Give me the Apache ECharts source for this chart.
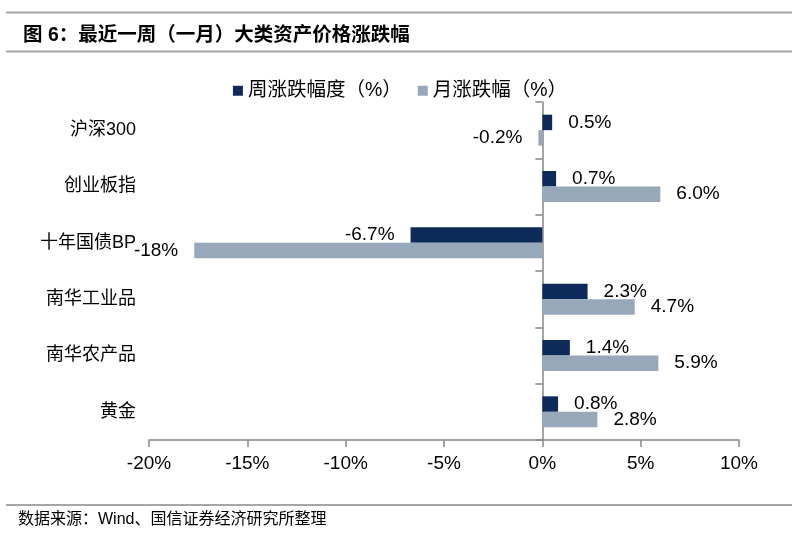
<!DOCTYPE html>
<html>
<head>
<meta charset="utf-8">
<script src="https://cdn.jsdelivr.net/npm/echarts@6/dist/echarts.min.js"></script>
<style>
html,body{margin:0;padding:0;background:#fff;}
#main{width:800px;height:542px;}
</style>
</head>
<body>
<div id="main"></div>
<script>
const categories = ['沪深300', '创业板指', '十年国债BP', '南华工业品', '南华农产品', '黄金'];
const weekValues = [0.5, 0.7, -6.7, 2.3, 1.4, 0.8];
const monthValues = [-0.2, 6.0, -17.7, 4.7, 5.9, 2.8];
const weekLabels = ['0.5%', '0.7%', '-6.7%', '2.3%', '1.4%', '0.8%'];
const monthLabels = ['-0.2%', '6.0%', '-18%', '4.7%', '5.9%', '2.8%'];
const seriesNames = ['周涨跌幅度（%）', '月涨跌幅（%）'];
const xMin = -20, xMax = 10, xStep = 5;

const latin = '"Liberation Sans", Arial, "Noto Sans CJK SC", sans-serif';
const cjk = '"Liberation Sans", "Noto Sans CJK SC", sans-serif';
const DARK = '#0d2a59';
const LIGHT = '#97a8bb';

const W = 800, H = 542;
const gridLeft = 149, gridRight = 61, gridTop = 102, gridBottom = 102;
const gridWidth = W - gridLeft - gridRight;
// place the category axis line at x = 0 of the value axis
const zeroOffset = -((0 - xMin) / (xMax - xMin)) * gridWidth;

function mkData(vals, labels) {
  return vals.map((v, i) => ({
    value: v,
    label: {
      position: v < 0 ? 'left' : 'right',
      formatter: labels[i]
    }
  }));
}

const chart = echarts.init(document.getElementById('main'));
chart.setOption({
  animation: false,
  backgroundColor: '#fff',
  title: {
    text: '图 6：最近一周（一月）大类资产价格涨跌幅',
    left: 18, top: 21,
    textStyle: { fontFamily: cjk, fontSize: 19.5, fontWeight: 'bold', color: '#000' }
  },
  graphic: [
    { type: 'line', shape: { x1: 6, y1: 12.5, x2: 792, y2: 12.5 }, style: { stroke: '#a6a6a6', lineWidth: 2 } },
    { type: 'line', shape: { x1: 6, y1: 51.5, x2: 792, y2: 51.5 }, style: { stroke: '#a6a6a6', lineWidth: 2 } },
    { type: 'line', shape: { x1: 6, y1: 505, x2: 792, y2: 505 }, style: { stroke: '#a6a6a6', lineWidth: 2 } },
    { type: 'text', left: 18, top: 512, style: { text: '数据来源：Wind、国信证券经济研究所整理', font: '16px "Liberation Sans", "Noto Sans CJK SC", sans-serif', fill: '#000' } }
  ],
  legend: {
    top: 76,
    left: 'center',
    icon: 'rect',
    itemWidth: 10, itemHeight: 10, itemGap: 16,
    textStyle: { fontFamily: cjk, fontSize: 19.5, color: '#000' },
    data: seriesNames
  },
  grid: { left: gridLeft, right: gridRight, top: gridTop, bottom: gridBottom, containLabel: false },
  xAxis: {
    type: 'value',
    min: xMin, max: xMax, interval: xStep,
    axisLine: { show: true, onZero: false, lineStyle: { color: '#868686', width: 1.5 } },
    axisTick: { show: true, length: 7, lineStyle: { color: '#868686', width: 1.5 } },
    splitLine: { show: false },
    axisLabel: { formatter: v => v + '%', fontFamily: latin, fontSize: 19, color: '#000', margin: 14 }
  },
  yAxis: [
    {
      type: 'category', data: categories, inverse: true,
      axisLine: { show: false, onZero: false }, axisTick: { show: false },
      axisLabel: { fontFamily: cjk, fontSize: 18, color: '#000', margin: 13 }
    },
    {
      type: 'category', data: categories, inverse: true, position: 'left',
      offset: zeroOffset,
      axisLine: { show: true, onZero: false, lineStyle: { color: '#868686', width: 1.5 } },
      axisTick: { show: true, length: 7, lineStyle: { color: '#868686', width: 1.5 } },
      axisLabel: { show: false }
    }
  ],
  series: [
    {
      name: seriesNames[0], type: 'bar', yAxisIndex: 0,
      barGap: '0%', barCategoryGap: '45%',
      itemStyle: { color: DARK },
      label: { show: true, distance: 16, fontFamily: latin, fontSize: 19, color: '#000' },
      data: mkData(weekValues, weekLabels)
    },
    {
      name: seriesNames[1], type: 'bar', yAxisIndex: 0,
      barGap: '0%', barCategoryGap: '45%',
      itemStyle: { color: LIGHT },
      label: { show: true, distance: 16, fontFamily: latin, fontSize: 19, color: '#000' },
      data: mkData(monthValues, monthLabels)
    }
  ]
});
</script>
</body>
</html>
